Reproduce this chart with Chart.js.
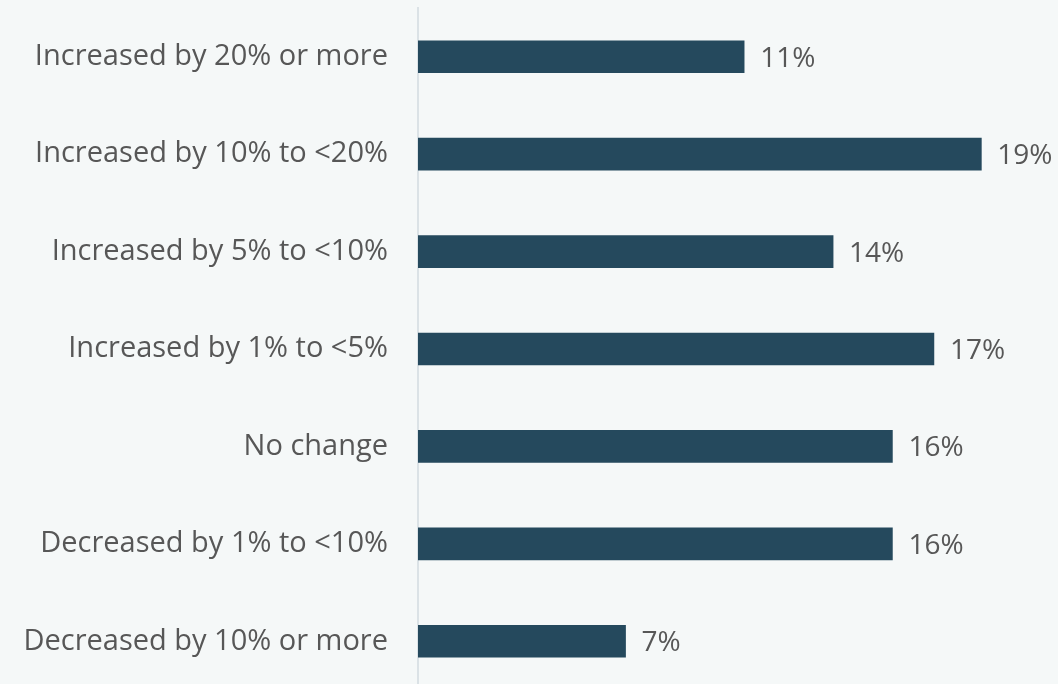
<!DOCTYPE html>
<html>
<head>
<meta charset="utf-8">
<script src="https://cdn.jsdelivr.net/npm/chart.js@4/dist/chart.umd.min.js"></script>
<style>
  html, body { margin: 0; padding: 0; background: #f5f8f8; overflow: hidden; }
  .wrap { position: relative; width: 1058px; height: 690px; }
</style>
</head>
<body>
<div class="wrap"><canvas id="chart"></canvas></div>
<script>
const categories = [
  'Increased by 20% or more',
  'Increased by 10% to <20%',
  'Increased by 5% to <10%',
  'Increased by 1% to <5%',
  'No change',
  'Decreased by 1% to <10%',
  'Decreased by 10% or more'
];
const shares = [11, 19, 14, 17.4, 16, 16, 7];

const textColor = '#575757';
const barColor = '#25495d';
const labelFont = { family: 'Open Sans', size: 29 };

// value labels at the end of each bar
const valueLabels = {
  id: 'valueLabels',
  afterDatasetsDraw(chart) {
    const ctx = chart.ctx;
    const meta = chart.getDatasetMeta(0);
    ctx.save();
    ctx.font = '28px "Open Sans"';
    ctx.fillStyle = textColor;
    ctx.textAlign = 'left';
    ctx.textBaseline = 'middle';
    meta.data.forEach((bar, i) => {
      ctx.fillText(Math.round(shares[i]) + '%', bar.x + 16, bar.y + 2);
    });
    ctx.restore();
  }
};

new Chart(document.getElementById('chart'), {
  type: 'bar',
  data: {
    labels: categories,
    datasets: [{
      data: shares,
      backgroundColor: barColor,
      barThickness: 32
    }]
  },
  options: {
    indexAxis: 'y',
    responsive: true,
    maintainAspectRatio: false,
    animation: false,
    layout: { padding: { top: 8, right: 47, bottom: 0, left: 0 } },
    plugins: {
      legend: { display: false },
      tooltip: { enabled: false }
    },
    scales: {
      x: {
        display: false,
        min: 0,
        max: 20
      },
      y: {
        afterFit(scale) {
          scale.width = 418;
          scale.paddingTop = 0;
          scale.paddingBottom = 0;
        },
        grid: { display: false, drawTicks: false },
        border: { display: true, color: '#dbe2e6', width: 2 },
        ticks: {
          color: textColor,
          font: labelFont,
          padding: 30,
          z: 1
        }
      }
    }
  },
  plugins: [valueLabels]
});
</script>
</body>
</html>
